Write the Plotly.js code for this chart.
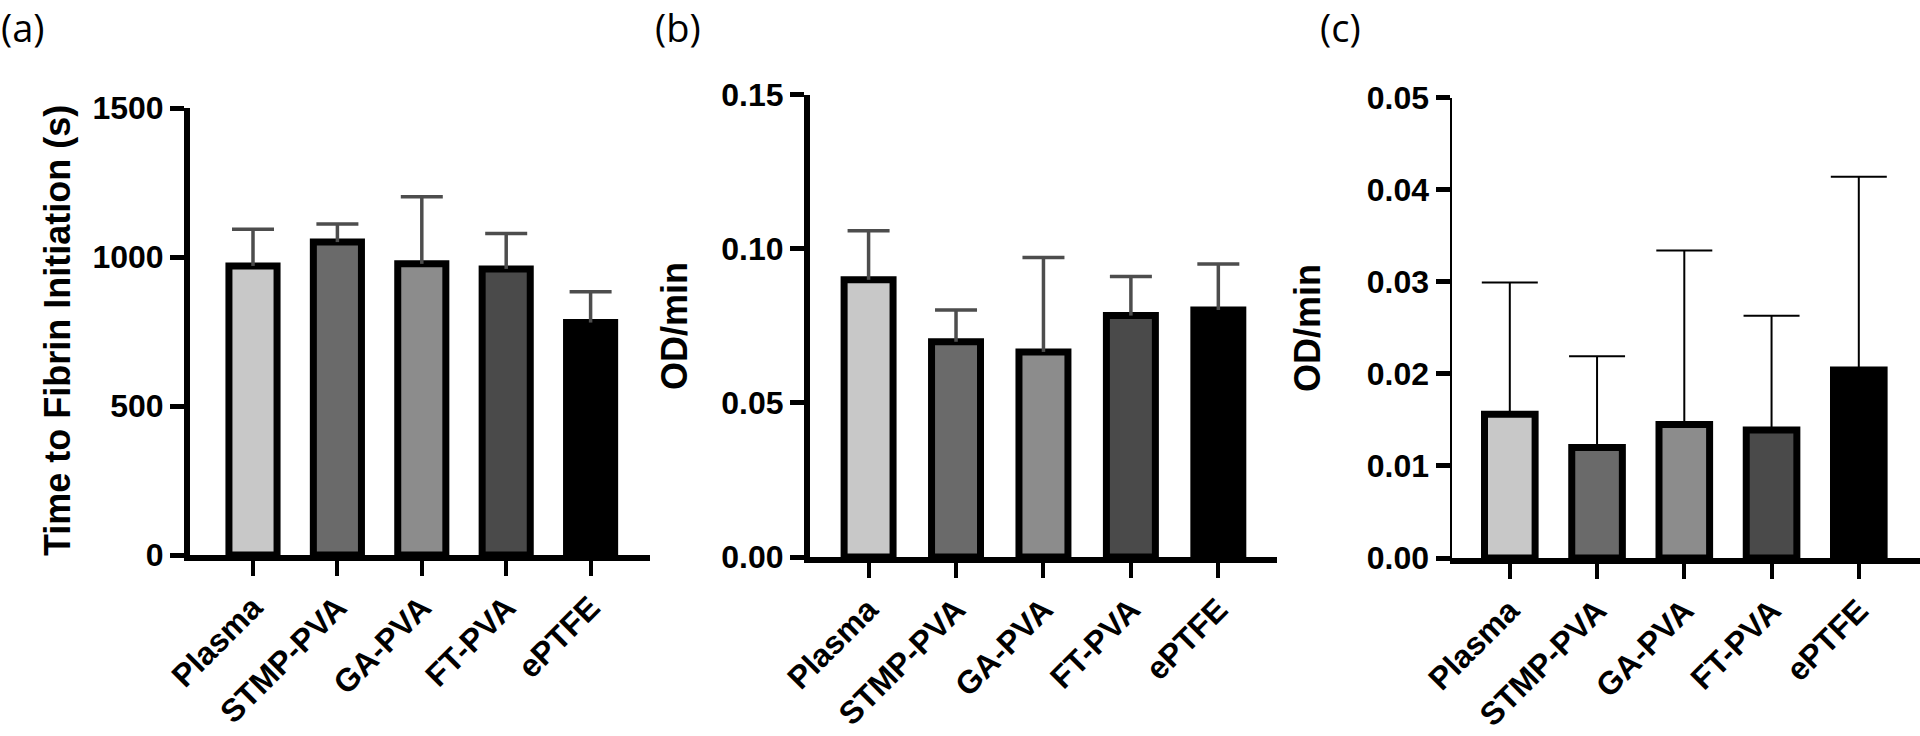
<!DOCTYPE html>
<html>
<head>
<meta charset="utf-8">
<script src="https://cdn.plot.ly/plotly-3.0.1.min.js"></script>
<style>
html, body { margin: 0; padding: 0; background: #fff; }
#chart { width: 1920px; height: 736px; }
</style>
</head>
<body>
<div id="chart"></div>
<script>
// ---- data ----
const categories = ["Plasma", "STMP-PVA", "GA-PVA", "FT-PVA", "ePTFE"];
const barColors = ["#c8c8c8", "#6a6a6a", "#8c8c8c", "#4a4a4a", "#000000"];

// (a) Time to fibrin initiation (s)
const fibrinMean = [970, 1050, 977, 960, 780];
const fibrinErr = [123, 61, 225, 119, 103];

// (b) OD/min
const odMeanB = [0.0899, 0.0698, 0.0665, 0.0783, 0.0801];
const odErrB = [0.0159, 0.0103, 0.0306, 0.0127, 0.0149];

// (c) OD/min
const odMeanC = [0.0156, 0.0120, 0.0145, 0.0139, 0.0204];
const odErrC = [0.0143, 0.0099, 0.0189, 0.0124, 0.0210];

const yTicksA = [0, 500, 1000, 1500];
const yTicksB = [0, 0.05, 0.10, 0.15];
const yTicksC = [0, 0.01, 0.02, 0.03, 0.04, 0.05];

// ---- helpers ----
const W = 1920, H = 736;
const px = v => v / W;
const py = v => (H - v) / H;
const zeros = categories.map(() => 0);

function barTrace(xa, ya, y, barW) {
  return {
    type: "bar",
    x: categories,
    y: y,
    xaxis: xa, yaxis: ya,
    width: barW,
    marker: { color: barColors, line: { color: "#000", width: 7 } },
    showlegend: false,
    hoverinfo: "x+y"
  };
}

// upper-only error bar: cap marker at mean+err, stem drawn down to the mean
function errTrace(xa, ya, mean, err, color, thick, capLen) {
  return {
    type: "scatter",
    mode: "markers",
    x: categories,
    y: mean.map((m, i) => m + err[i]),
    xaxis: xa, yaxis: ya,
    marker: { symbol: "line-ew", size: capLen, color: color, line: { color: color, width: thick } },
    error_y: {
      type: "data", symmetric: false, array: zeros, arrayminus: err,
      color: color, thickness: thick, width: 0, visible: true
    },
    showlegend: false,
    hoverinfo: "skip"
  };
}

const tickFontY = { family: "Liberation Sans, Arial, sans-serif", size: 32, color: "#000", weight: "bold" };
const tickFontX = { family: "Liberation Sans, Arial, sans-serif", size: 32, color: "#000", weight: "bold" };

function xAxis(domain, range, anchor) {
  return {
    domain: domain, range: range, anchor: anchor, type: "category",
    showline: true, linecolor: "#000", linewidth: 6,
    ticks: "outside", ticklen: 15, tickwidth: 4, tickcolor: "#000",
    tickangle: -45, tickfont: tickFontX, showgrid: false, zeroline: false,
    fixedrange: true
  };
}
function yAxis(domain, range, tickvals, fmt, anchor, lw) {
  return {
    domain: domain, range: range, anchor: anchor,
    tickvals: tickvals, tickformat: fmt,
    showline: true, linecolor: "#000", linewidth: lw,
    ticks: "outside", ticklen: 14, tickwidth: 5, tickcolor: "#000",
    tickfont: tickFontY, showgrid: false, zeroline: false, fixedrange: true
  };
}

const data = [
  barTrace("x", "y", fibrinMean, 0.57),
  barTrace("x2", "y2", odMeanB, 0.56),
  barTrace("x3", "y3", odMeanC, 0.58),
  errTrace("x", "y", fibrinMean, fibrinErr, "#4d4d4d", 3.5, 30),
  errTrace("x2", "y2", odMeanB, odErrB, "#4d4d4d", 3.5, 30),
  errTrace("x3", "y3", odMeanC, odErrC, "#000", 2, 40)
];

const titleFont = { family: "Liberation Sans, Arial, sans-serif", size: 36, color: "#000", weight: "bold" };
const panelFont = { family: "Open Sans, Noto Sans, sans-serif", size: 38, color: "#000" };

const layout = {
  width: W, height: H,
  margin: { l: 0, r: 0, t: 0, b: 0 },
  paper_bgcolor: "#fff", plot_bgcolor: "rgba(0,0,0,0)",
  bargap: 0.4,
  xaxis: xAxis([px(190), px(650)], [-0.7464, 4.7038], "y"),
  yaxis: yAxis([py(555), py(108)], [0, 1500], yTicksA, "d", "x", 6),
  xaxis2: xAxis([px(810), px(1277)], [-0.670, 4.671], "y2"),
  yaxis2: yAxis([py(557), py(94.5)], [0, 0.15], yTicksB, ".2f", "x2", 6),
  xaxis3: xAxis([px(1452), px(1920)], [-0.6625, 4.7014], "y3"),
  yaxis3: yAxis([py(558), py(97.5)], [0, 0.05], yTicksC, ".2f", "x3", 2.5),
  annotations: [
    { text: "Time to Fibrin Initiation (s)", xref: "paper", yref: "paper", x: px(57), y: py(331),
      xanchor: "center", yanchor: "middle", textangle: -90, showarrow: false, font: titleFont },
    { text: "OD/min", xref: "paper", yref: "paper", x: px(674), y: py(326),
      xanchor: "center", yanchor: "middle", textangle: -90, showarrow: false, font: titleFont },
    { text: "OD/min", xref: "paper", yref: "paper", x: px(1307), y: py(328),
      xanchor: "center", yanchor: "middle", textangle: -90, showarrow: false, font: titleFont },
    { text: "(a)", xref: "paper", yref: "paper", x: px(0), y: py(0),
      xanchor: "left", yanchor: "top", borderpad: 0, showarrow: false, font: panelFont },
    { text: "(b)", xref: "paper", yref: "paper", x: px(654), y: py(0),
      xanchor: "left", yanchor: "top", borderpad: 0, showarrow: false, font: panelFont },
    { text: "(c)", xref: "paper", yref: "paper", x: px(1319), y: py(0),
      xanchor: "left", yanchor: "top", borderpad: 0, showarrow: false, font: panelFont }
  ]
};

Plotly.newPlot("chart", data, layout, { displayModeBar: false, staticPlot: true });
</script>
</body>
</html>
